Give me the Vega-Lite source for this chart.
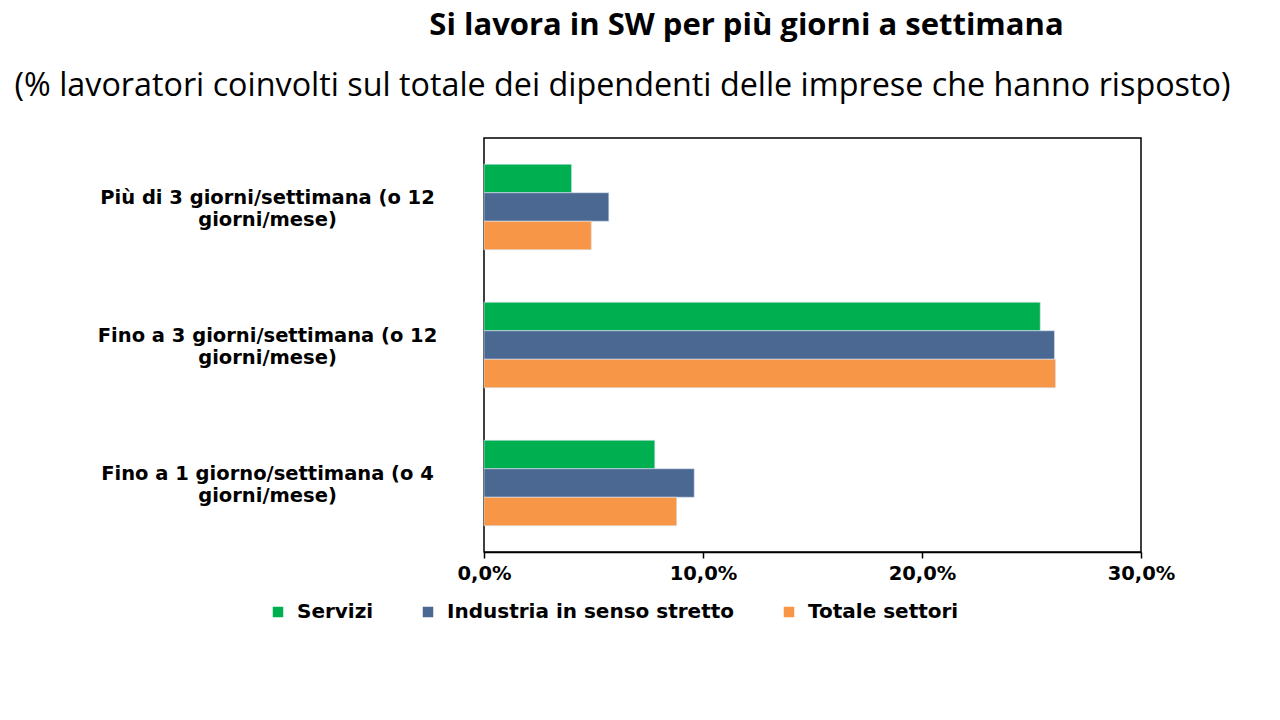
{
  "$schema": "https://vega.github.io/schema/vega-lite/v6.json",
  "width": 657,
  "height": 414,
  "autosize": "none",
  "padding": {"left": 484, "top": 138, "right": 139, "bottom": 168},
  "background": "white",
  "title": {
    "text": "Si lavora in SW per più giorni a settimana",
    "anchor": "middle",
    "frame": "group",
    "dx": -66,
    "offset": 3,
    "baseline": "alphabetic",
    "font": "Open Sans",
    "fontSize": 31,
    "fontWeight": "bold",
    "color": "black"
  },
  "data": {
    "values": [
      {"Frequenza": "Più di 3 giorni/settimana (o 12 giorni/mese)", "Settore": "Servizi", "Quota": 0.040},
      {"Frequenza": "Più di 3 giorni/settimana (o 12 giorni/mese)", "Settore": "Industria in senso stretto", "Quota": 0.057},
      {"Frequenza": "Più di 3 giorni/settimana (o 12 giorni/mese)", "Settore": "Totale settori", "Quota": 0.049},
      {"Frequenza": "Fino a 3 giorni/settimana (o 12 giorni/mese)", "Settore": "Servizi", "Quota": 0.254},
      {"Frequenza": "Fino a 3 giorni/settimana (o 12 giorni/mese)", "Settore": "Industria in senso stretto", "Quota": 0.2605},
      {"Frequenza": "Fino a 3 giorni/settimana (o 12 giorni/mese)", "Settore": "Totale settori", "Quota": 0.261},
      {"Frequenza": "Fino a 1 giorno/settimana (o 4 giorni/mese)", "Settore": "Servizi", "Quota": 0.078},
      {"Frequenza": "Fino a 1 giorno/settimana (o 4 giorni/mese)", "Settore": "Industria in senso stretto", "Quota": 0.096},
      {"Frequenza": "Fino a 1 giorno/settimana (o 4 giorni/mese)", "Settore": "Totale settori", "Quota": 0.088}
    ]
  },
  "mark": {"type": "bar", "stroke": "#DCE6F2", "strokeWidth": 0.6},
  "encoding": {
    "y": {
      "field": "Frequenza",
      "type": "nominal",
      "sort": null,
      "scale": {"paddingInner": 0.38, "paddingOuter": 0.19},
      "axis": {
        "title": "(% lavoratori coinvolti sul totale dei dipendenti delle imprese che hanno risposto)",
        "titleAngle": 0,
        "titleAlign": "center",
        "titleBaseline": "alphabetic",
        "titleX": 138,
        "titleY": -43,
        "titleFont": "Open Sans",
        "titleFontSize": 32.3,
        "titleFontWeight": "normal",
        "titleColor": "black",
        "ticks": false,
        "domain": false,
        "labelAlign": "center",
        "labelPadding": 217,
        "labelLimit": 500,
        "labelFont": "DejaVu Sans",
        "labelFontSize": 19.5,
        "labelFontWeight": "bold",
        "labelColor": "black",
        "labelLineHeight": 22,
        "labelOffset": -9,
        "labelExpr": "[slice(datum.label, 0, indexof(datum.label, ' giorni/mese')), 'giorni/mese)']"
      }
    },
    "yOffset": {
      "field": "Settore",
      "type": "nominal",
      "sort": ["Servizi", "Industria in senso stretto", "Totale settori"],
      "scale": {"paddingInner": 0, "paddingOuter": 0}
    },
    "x": {
      "field": "Quota",
      "type": "quantitative",
      "scale": {"domain": [0, 0.3]},
      "axis": {
        "title": null,
        "values": [0, 0.1, 0.2, 0.3],
        "grid": false,
        "labelFlush": false,
        "labelExpr": "replace(format(datum.value, '.1%'), '.', ',')",
        "labelFont": "DejaVu Sans",
        "labelFontSize": 19.5,
        "labelFontWeight": "bold",
        "labelColor": "black",
        "labelPadding": 6,
        "tickSize": 6,
        "tickColor": "black",
        "tickWidth": 1.5,
        "domainColor": "black",
        "domainWidth": 1.5
      }
    },
    "color": {
      "field": "Settore",
      "type": "nominal",
      "sort": ["Servizi", "Industria in senso stretto", "Totale settori"],
      "scale": {
        "domain": ["Servizi", "Industria in senso stretto", "Totale settori"],
        "range": ["#00B050", "#4A6892", "#F79646"]
      },
      "legend": {
        "title": null,
        "orient": "none",
        "direction": "horizontal",
        "legendX": -216,
        "legendY": 464,
        "padding": 0,
        "symbolType": "square",
        "symbolSize": 110,
        "symbolStrokeWidth": 0,
        "labelFont": "DejaVu Sans",
        "labelFontSize": 20,
        "labelFontWeight": "bold",
        "labelColor": "black",
        "labelLimit": 500,
        "labelOffset": 9,
        "columnPadding": 44
      }
    }
  },
  "config": {
    "view": {"stroke": "black", "strokeWidth": 1.5},
    "axis": {"grid": false}
  }
}
